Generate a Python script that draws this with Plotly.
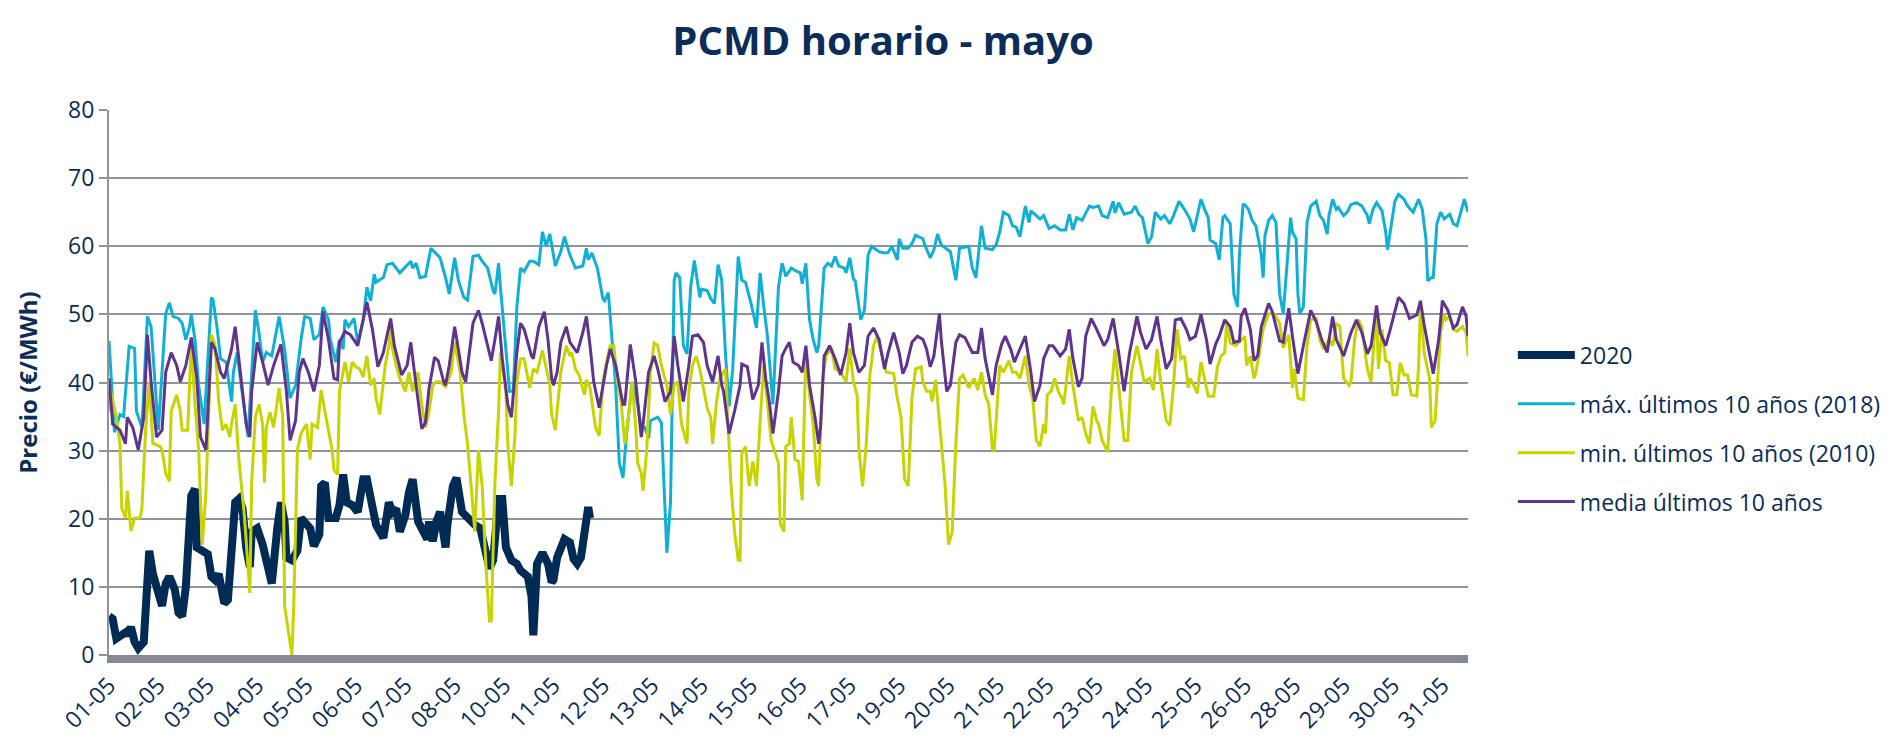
import plotly.graph_objects as go

# ---------------- data (hour index of May, €/MWh) ----------------
tick_labels = ["01-05", "02-05", "03-05", "04-05", "05-05", "06-05", "07-05",
               "08-05", "10-05", "11-05", "12-05", "13-05", "14-05", "15-05",
               "16-05", "17-05", "19-05", "20-05", "21-05", "22-05", "23-05",
               "24-05", "25-05", "26-05", "28-05", "29-05", "30-05", "31-05"]

series_names = ["2020", "máx. últimos 10 años (2018)",
                "min. últimos 10 años (2010)", "media últimos 10 años"]

pts_2020 = [(0, 5.7), (2, 5.3), (4, 2.4), (7, 2.9), (9, 3.3), (10, 2.9), (12, 4.1), (14, 1.9),
            (16, 1.0), (19, 1.9), (20, 8.1), (22, 15.3), (24, 11.9), (26, 10.0), (28, 9.1),
            (29, 7.2), (31, 10.5), (33, 11.5), (36, 9.6), (38, 6.2), (40, 5.7), (42, 10.0),
            (45, 23.4), (47, 24.4), (48, 15.8), (51, 15.3), (54, 14.8), (56, 11.5), (58, 11.0),
            (60, 11.9), (63, 7.6), (65, 8.1), (67, 14.3), (69, 22.4), (71, 22.9), (73, 21.5),
            (75, 15.8), (77, 12.9), (78, 18.1), (81, 18.6), (84, 16.2), (87, 11.9), (89, 10.5),
            (92, 18.6), (94, 22.4), (96, 19.6), (97, 14.3), (100, 13.9), (103, 15.3), (105, 20.1),
            (107, 19.6), (110, 18.6), (112, 16.0), (115, 17.7), (116, 24.8), (118, 25.3),
            (120, 20.1), (124, 20.1), (126, 22.0), (128, 26.5), (130, 22.4), (133, 22.0),
            (136, 21.0), (139, 25.8), (141, 25.8), (144, 21.0), (146, 19.1), (150, 17.2),
            (153, 22.4), (155, 21.0), (157, 21.5), (159, 18.1), (162, 20.5), (164, 23.9),
            (166, 25.8), (169, 19.6), (172, 17.7), (174, 17.0), (175, 19.6), (177, 16.7),
            (179, 19.6), (181, 21.0), (184, 15.8), (185, 19.1), (188, 24.8), (190, 26.0),
            (193, 21.0), (196, 20.1), (200, 19.1), (203, 18.6), (205, 15.8), (208, 12.7),
            (210, 13.9), (212, 19.1), (213, 22.9), (215, 22.9), (217, 15.8), (220, 13.9),
            (223, 13.4), (225, 12.4), (229, 11.5), (231, 8.6), (232, 2.9), (234, 13.4),
            (237, 15.0), (240, 13.4), (242, 10.7), (243, 11.0), (245, 14.3), (249, 17.0),
            (252, 16.5), (254, 14.1), (256, 13.4), (258, 14.3), (260, 18.6), (262, 21.7),
            (263, 20.1)]

pts_max = [(0, 46.1), (3, 32.7), (6, 35.3), (8, 35.0), (11, 45.3), (14, 45.0), (15, 35.8),
           (18, 33.4), (21, 49.7), (23, 48.2), (27, 33.0), (31, 50.1), (33, 51.7), (35, 49.7),
           (38, 49.4), (40, 48.7), (42, 46.3), (44, 48.2), (45, 50.0), (47, 46.3), (49, 39.6),
           (52, 33.9), (56, 52.5), (57, 52.0), (59, 48.2), (61, 43.5), (64, 43.0), (66, 39.6),
           (67, 37.2), (68, 41.5), (70, 44.4), (76, 32.0), (80, 50.6), (82, 47.3), (84, 43.0),
           (86, 44.4), (89, 43.9), (93, 49.7), (95, 46.8), (96, 44.9), (99, 37.7), (102, 39.6),
           (105, 46.3), (107, 49.7), (110, 49.4), (112, 46.3), (115, 47.0), (117, 51.1),
           (120, 49.2), (121, 46.3), (124, 43.0), (126, 46.3), (128, 44.9), (129, 49.2),
           (131, 48.2), (134, 49.4), (136, 45.8), (139, 49.2), (141, 54.0), (143, 52.0),
           (145, 55.9), (146, 54.7), (150, 55.4), (152, 57.3), (155, 57.5), (159, 56.1),
           (165, 57.8), (166, 56.8), (168, 57.5), (170, 55.4), (173, 55.6), (176, 59.7),
           (181, 58.3), (184, 55.4), (186, 53.0), (189, 58.3), (191, 55.0), (194, 52.5),
           (196, 52.1), (199, 58.5), (202, 58.7), (204, 57.8), (207, 56.8), (210, 53.5),
           (211, 53.0), (213, 57.5), (214, 54.0), (217, 45.4), (219, 38.7), (221, 38.7),
           (223, 51.1), (225, 56.8), (227, 56.3), (230, 57.8), (232, 57.8), (235, 57.3),
           (237, 62.1), (239, 60.0), (241, 61.8), (243, 58.7), (244, 57.1), (247, 59.2),
           (249, 61.4), (252, 58.7), (255, 56.8), (259, 57.1), (261, 59.7), (262, 58.0),
           (264, 59.0), (267, 56.8), (270, 52.3), (271, 52.0), (273, 53.2), (275, 46.3),
           (277, 39.6), (279, 28.2), (281, 26.0), (283, 32.5), (286, 40.1), (289, 36.8),
           (291, 33.4), (293, 33.4), (295, 31.8), (296, 34.4), (300, 34.9), (302, 34.1),
           (304, 19.6), (305, 15.0), (307, 22.4), (309, 55.0), (310, 56.1), (312, 55.4),
           (314, 45.4), (316, 44.2), (318, 54.0), (320, 57.9), (323, 52.5), (324, 53.7),
           (327, 53.5), (329, 52.3), (331, 51.6), (333, 57.3), (335, 55.0), (337, 44.4),
           (339, 36.5), (341, 42.0), (344, 58.5), (346, 55.0), (348, 54.7), (351, 51.6),
           (354, 48.0), (356, 56.1), (358, 51.1), (360, 46.8), (363, 36.8), (366, 54.0),
           (368, 57.5), (370, 55.6), (373, 56.8), (376, 56.3), (378, 56.1), (379, 54.5),
           (381, 57.5), (383, 49.2), (385, 46.3), (387, 44.4), (388, 45.4), (391, 56.8),
           (393, 57.5), (395, 57.1), (397, 58.5), (399, 57.1), (402, 56.8), (403, 56.1),
           (405, 58.3), (407, 55.2), (408, 54.9), (411, 49.2), (413, 50.6), (415, 58.7),
           (417, 60.0), (421, 59.2), (424, 59.0), (426, 59.1), (428, 60.0), (431, 58.0),
           (432, 61.1), (434, 59.7), (437, 59.7), (439, 60.4), (441, 61.6), (445, 61.1),
           (446, 60.2), (449, 58.3), (451, 59.5), (453, 61.8), (455, 60.2), (460, 59.2),
           (463, 55.0), (465, 59.7), (470, 60.0), (472, 56.8), (474, 55.4), (477, 63.0),
           (479, 59.7), (483, 59.5), (485, 60.2), (487, 62.1), (489, 65.0), (492, 64.5),
           (494, 63.0), (496, 62.8), (498, 61.4), (501, 65.9), (503, 63.5), (504, 65.2),
           (507, 64.5), (509, 64.0), (511, 64.5), (513, 63.3), (514, 62.6), (517, 63.0),
           (520, 62.4), (523, 62.4), (525, 64.7), (527, 62.4), (529, 64.2), (532, 63.8),
           (536, 65.9), (538, 65.7), (541, 65.9), (543, 64.5), (546, 64.2), (549, 66.6),
           (550, 64.9), (552, 66.4), (555, 64.7), (559, 65.0), (561, 65.9), (563, 64.7),
           (565, 64.2), (568, 60.4), (570, 61.4), (572, 65.0), (575, 64.0), (577, 64.5),
           (580, 63.3), (582, 64.5), (585, 66.6), (588, 65.4), (591, 64.0), (593, 62.1),
           (595, 64.7), (597, 66.9), (599, 65.4), (601, 64.2), (602, 60.9), (605, 60.4),
           (607, 58.0), (609, 64.2), (610, 64.5), (613, 63.3), (615, 53.0), (617, 51.1),
           (618, 58.7), (620, 66.1), (621, 66.1), (623, 65.4), (625, 63.8), (627, 63.0),
           (629, 60.2), (630, 58.7), (631, 55.4), (632, 61.6), (634, 63.8), (636, 64.5),
           (638, 63.5), (640, 53.0), (642, 50.1), (644, 56.8), (646, 64.2), (647, 62.1),
           (649, 61.1), (650, 53.0), (651, 50.1), (653, 51.1), (655, 63.5), (657, 65.9),
           (660, 66.6), (662, 64.5), (664, 63.8), (666, 61.8), (667, 64.5), (669, 66.9),
           (671, 65.4), (672, 65.7), (675, 64.5), (677, 65.0), (679, 66.1), (682, 66.4),
           (685, 65.9), (688, 64.5), (689, 63.3), (691, 65.4), (693, 66.4), (696, 65.2),
           (698, 62.1), (699, 59.5), (701, 62.8), (703, 66.6), (705, 67.6), (708, 66.9),
           (710, 65.9), (713, 65.0), (716, 66.9), (718, 65.4), (720, 61.1), (721, 54.9),
           (723, 55.4), (724, 55.4), (726, 63.3), (728, 65.0), (730, 64.0), (733, 64.7),
           (735, 63.3), (737, 63.0), (741, 66.9), (743, 65.0)]

pts_min = [(0, 35.8), (1, 38.7), (4, 34.9), (6, 31.0), (7, 21.5), (9, 20.1), (10, 24.1),
           (12, 18.2), (14, 20.1), (17, 20.1), (18, 21.5), (20, 33.0), (22, 40.1), (24, 31.0),
           (25, 31.0), (28, 30.6), (29, 30.1), (31, 26.7), (33, 25.5), (34, 35.8), (37, 38.2),
           (39, 35.8), (40, 33.0), (43, 33.0), (45, 45.8), (47, 36.8), (49, 30.1), (51, 16.2),
           (53, 23.9), (56, 47.0), (58, 45.4), (60, 37.2), (62, 33.0), (64, 33.9), (66, 32.0),
           (67, 33.9), (69, 36.8), (71, 28.7), (74, 20.5), (77, 9.1), (78, 25.3), (80, 34.9),
           (82, 36.8), (84, 33.9), (85, 25.3), (86, 33.4), (88, 35.6), (90, 33.4), (93, 39.2),
           (95, 34.9), (96, 7.2), (100, 0.0), (101, 7.2), (103, 30.1), (105, 32.5), (106, 33.0),
           (108, 33.9), (110, 28.7), (111, 33.9), (114, 33.4), (116, 38.9), (118, 35.8),
           (120, 33.0), (122, 30.1), (123, 27.2), (125, 26.5), (126, 38.7), (129, 43.0),
           (131, 40.1), (133, 43.0), (135, 42.3), (137, 42.0), (139, 40.8), (141, 43.9),
           (143, 39.6), (145, 40.6), (146, 37.7), (148, 35.3), (151, 42.5), (153, 45.4),
           (154, 48.0), (155, 44.9), (157, 42.5), (159, 40.6), (162, 38.7), (164, 41.5),
           (166, 38.7), (169, 41.5), (171, 36.8), (173, 33.4), (175, 35.8), (177, 39.6),
           (179, 40.1), (181, 40.1), (184, 39.4), (187, 41.5), (189, 45.9), (192, 41.5),
           (194, 35.3), (196, 31.0), (198, 24.8), (200, 18.1), (202, 30.1), (204, 24.8),
           (206, 13.4), (208, 5.0), (209, 5.0), (211, 25.3), (213, 35.8), (214, 44.4),
           (217, 38.7), (218, 31.0), (220, 24.8), (222, 32.5), (223, 40.1), (225, 43.5),
           (227, 43.5), (230, 39.2), (232, 42.0), (234, 41.5), (237, 44.7), (239, 42.0),
           (241, 39.6), (242, 35.3), (244, 33.0), (247, 41.5), (250, 45.4), (252, 43.9),
           (253, 44.4), (255, 42.0), (257, 41.1), (260, 38.2), (261, 40.4), (263, 39.2),
           (264, 37.2), (266, 33.4), (268, 32.2), (270, 40.1), (272, 43.0), (274, 45.4),
           (276, 45.4), (278, 40.1), (280, 37.2), (282, 31.0), (284, 34.9), (286, 40.1),
           (288, 33.4), (289, 28.2), (291, 26.7), (292, 24.1), (294, 30.1), (296, 41.5),
           (298, 45.8), (300, 45.4), (302, 42.5), (305, 39.6), (307, 35.3), (309, 39.6),
           (311, 40.1), (313, 33.9), (316, 31.0), (317, 38.7), (319, 42.5), (321, 43.9),
           (323, 42.0), (325, 39.2), (327, 36.3), (329, 34.9), (330, 31.0), (332, 36.8),
           (334, 40.6), (337, 42.0), (339, 29.6), (340, 25.3), (342, 18.1), (344, 13.9),
           (345, 13.9), (346, 29.6), (348, 30.6), (350, 24.8), (352, 28.4), (354, 24.8),
           (356, 34.4), (358, 42.5), (359, 39.6), (362, 31.5), (366, 28.2), (367, 19.2),
           (369, 18.1), (370, 30.6), (372, 31.0), (373, 34.9), (375, 28.7), (377, 28.4),
           (379, 22.7), (380, 34.9), (381, 45.0), (383, 38.2), (385, 33.9), (387, 25.8),
           (388, 24.8), (390, 40.1), (392, 43.9), (395, 45.0), (397, 42.0), (400, 41.5),
           (403, 40.1), (405, 45.0), (407, 40.1), (409, 38.2), (410, 30.1), (412, 24.8),
           (414, 31.0), (416, 41.1), (418, 45.4), (420, 46.8), (423, 43.5), (425, 41.5),
           (429, 41.3), (431, 37.7), (433, 34.9), (435, 25.8), (437, 24.8), (439, 37.7),
           (441, 42.0), (444, 42.3), (445, 40.1), (447, 38.7), (449, 38.7), (450, 37.2),
           (452, 40.4), (455, 31.5), (457, 25.3), (459, 16.2), (461, 18.1), (463, 31.0),
           (465, 40.6), (467, 41.1), (470, 39.2), (473, 40.6), (475, 38.9), (477, 41.5),
           (479, 38.2), (481, 36.8), (483, 30.1), (484, 30.1), (487, 42.5), (489, 41.5),
           (492, 43.2), (494, 41.5), (496, 41.5), (498, 40.6), (501, 43.9), (503, 39.6),
           (505, 37.7), (507, 31.5), (509, 30.6), (511, 33.9), (512, 32.5), (513, 38.2),
           (515, 38.7), (517, 40.6), (519, 38.7), (521, 37.7), (522, 36.8), (525, 43.9),
           (527, 39.6), (530, 34.4), (532, 34.9), (534, 32.5), (536, 31.0), (538, 36.5),
           (540, 34.4), (541, 33.9), (543, 31.5), (546, 29.8), (548, 38.7), (550, 44.9),
           (552, 39.6), (553, 37.7), (555, 31.5), (557, 31.5), (559, 41.5), (562, 45.4),
           (564, 42.5), (566, 40.1), (569, 40.6), (571, 38.9), (573, 44.9), (575, 40.1),
           (578, 34.4), (580, 33.7), (582, 39.6), (584, 47.8), (586, 43.5), (588, 43.9),
           (590, 39.2), (591, 40.6), (593, 39.6), (595, 38.4), (597, 43.0), (599, 40.6),
           (601, 38.0), (604, 38.0), (606, 42.3), (608, 43.9), (610, 44.4), (611, 48.7),
           (613, 45.8), (616, 45.4), (619, 46.3), (621, 46.8), (622, 42.5), (624, 43.9),
           (626, 40.6), (627, 41.5), (629, 44.4), (631, 47.8), (634, 50.1), (637, 50.1),
           (640, 48.7), (642, 45.1), (645, 47.0), (647, 39.2), (648, 42.0), (650, 37.7),
           (653, 37.5), (655, 45.4), (657, 49.2), (660, 49.4), (662, 46.3), (664, 44.9),
           (667, 46.3), (669, 45.4), (671, 48.7), (673, 48.2), (675, 40.6), (678, 39.6),
           (679, 40.1), (681, 46.3), (683, 49.2), (685, 48.2), (687, 43.9), (688, 42.0),
           (690, 40.1), (691, 43.5), (693, 51.1), (694, 42.0), (696, 47.8), (698, 43.2),
           (700, 42.9), (702, 38.2), (704, 38.2), (706, 42.9), (708, 41.1), (710, 41.1),
           (712, 38.2), (715, 38.0), (716, 42.5), (717, 51.6), (719, 44.4), (722, 40.6),
           (723, 33.4), (725, 34.4), (727, 42.0), (728, 47.3), (730, 50.1), (731, 49.2),
           (733, 49.7), (735, 47.8), (737, 47.5), (740, 48.2), (742, 47.3), (743, 43.9)]

pts_media = [(0, 40.6), (2, 33.9), (6, 33.0), (9, 31.0), (10, 34.9), (13, 33.4), (16, 30.1),
             (19, 34.9), (21, 47.0), (23, 40.1), (26, 32.0), (29, 33.0), (31, 41.5), (34, 44.4),
             (37, 42.5), (39, 40.1), (42, 42.5), (45, 46.6), (48, 40.6), (50, 32.0), (53, 30.1),
             (56, 45.9), (58, 44.9), (61, 41.5), (63, 40.6), (67, 44.9), (69, 48.2), (72, 41.5),
             (75, 33.9), (77, 32.0), (78, 38.7), (81, 45.9), (84, 43.0), (87, 39.6), (90, 42.5),
             (94, 45.6), (97, 38.7), (99, 31.5), (102, 34.4), (104, 41.5), (106, 43.5),
             (109, 41.5), (112, 38.7), (115, 42.5), (117, 50.4), (120, 46.3), (123, 40.6),
             (125, 40.4), (126, 45.9), (129, 47.5), (132, 47.0), (136, 45.4), (138, 47.8),
             (141, 51.8), (144, 47.8), (147, 42.3), (150, 44.4), (154, 49.4), (156, 45.4),
             (160, 41.1), (163, 42.5), (165, 45.9), (167, 41.5), (171, 33.2), (173, 34.1),
             (175, 39.2), (178, 43.7), (180, 43.2), (183, 40.1), (184, 39.6), (186, 42.5),
             (189, 48.2), (191, 44.9), (193, 41.5), (195, 40.1), (199, 48.7), (202, 50.6),
             (204, 48.7), (207, 45.4), (209, 43.2), (211, 46.3), (213, 49.7), (215, 43.5),
             (218, 36.8), (220, 34.9), (223, 44.4), (225, 48.7), (227, 47.8), (231, 43.9),
             (232, 43.5), (235, 48.2), (238, 50.4), (240, 46.3), (242, 40.6), (243, 39.6),
             (245, 41.5), (247, 45.9), (250, 48.2), (252, 45.9), (256, 44.4), (259, 47.3),
             (261, 49.7), (263, 45.4), (265, 40.1), (268, 36.3), (271, 41.1), (272, 42.5),
             (274, 44.9), (277, 42.5), (281, 36.8), (282, 36.8), (285, 45.6), (288, 40.1),
             (291, 32.0), (292, 33.9), (295, 41.5), (298, 43.9), (300, 42.0), (304, 37.2),
             (307, 38.7), (309, 46.8), (311, 42.5), (314, 37.2), (317, 42.5), (319, 46.8),
             (322, 47.0), (325, 45.9), (327, 42.5), (330, 40.1), (333, 43.9), (335, 39.6),
             (336, 38.7), (339, 32.5), (342, 35.8), (345, 39.6), (346, 42.7), (349, 42.3),
             (352, 37.5), (355, 39.6), (357, 45.9), (359, 40.6), (361, 37.2), (363, 32.5),
             (366, 38.7), (368, 43.9), (370, 45.0), (372, 45.9), (374, 43.0), (377, 42.5),
             (379, 41.5), (381, 45.4), (383, 39.6), (386, 34.9), (388, 31.0), (389, 33.4),
             (391, 43.9), (394, 45.4), (397, 43.5), (400, 41.1), (403, 44.4), (405, 48.7),
             (407, 44.4), (410, 41.5), (413, 42.5), (415, 46.8), (418, 48.0), (421, 46.3),
             (424, 42.0), (426, 44.4), (429, 47.3), (432, 44.4), (434, 41.3), (436, 42.5),
             (439, 45.9), (442, 46.8), (445, 46.3), (447, 44.9), (449, 42.3), (451, 43.9),
             (454, 50.1), (455, 46.3), (458, 38.7), (460, 39.6), (463, 45.9), (465, 47.0),
             (468, 46.6), (472, 44.4), (475, 44.4), (477, 48.0), (479, 43.5), (483, 38.2),
             (485, 42.5), (488, 45.6), (490, 46.8), (493, 44.9), (495, 43.0), (498, 44.9),
             (501, 46.8), (504, 41.5), (506, 37.2), (509, 39.6), (511, 43.5), (514, 45.4),
             (516, 45.4), (520, 43.9), (523, 44.9), (525, 47.8), (527, 43.5), (530, 39.4),
             (532, 40.6), (534, 46.8), (537, 49.4), (540, 47.8), (544, 45.4), (546, 46.3),
             (549, 49.4), (552, 44.4), (555, 38.7), (558, 44.4), (560, 47.3), (562, 49.7),
             (564, 47.3), (567, 44.9), (570, 46.3), (573, 49.7), (575, 46.3), (578, 42.0),
             (581, 43.5), (583, 49.2), (586, 49.4), (589, 47.8), (591, 46.3), (594, 46.8),
             (597, 50.0), (600, 46.3), (602, 42.7), (605, 45.6), (607, 46.8), (610, 49.2),
             (613, 48.2), (615, 45.9), (618, 46.1), (619, 49.7), (621, 50.9), (624, 47.8),
             (626, 43.2), (628, 43.9), (630, 48.2), (634, 51.6), (636, 50.4), (640, 46.1),
             (642, 45.9), (645, 50.9), (647, 46.8), (650, 41.3), (653, 45.4), (657, 50.6),
             (660, 48.9), (663, 46.3), (666, 44.4), (669, 49.7), (671, 46.3), (675, 43.9),
             (679, 47.3), (682, 49.2), (685, 47.3), (688, 44.2), (690, 45.4), (693, 51.3),
             (695, 47.3), (698, 45.4), (700, 47.3), (705, 52.5), (708, 51.6), (711, 49.4),
             (715, 49.9), (717, 52.0), (719, 48.5), (722, 44.4), (724, 41.3), (727, 46.3),
             (729, 52.0), (732, 50.6), (735, 48.0), (737, 48.5), (740, 51.1), (742, 49.7),
             (743, 46.8)]

# ---------------- styling ----------------
NAVY = "#0B2D58"
GRID = "#8E939D"
FONT = "Open Sans"
colors = ["#002B55", "#10B0D6", "#C8D400", "#60338C"]
widths = [8, 3, 3, 3]
all_pts = [pts_2020, pts_max, pts_min, pts_media]

fig = go.Figure()
for name, pts, col, w in zip(series_names, all_pts, colors, widths):
    fig.add_trace(go.Scatter(
        x=[p[0] for p in pts], y=[p[1] for p in pts], mode="lines", name=name,
        legendgroup=name, line=dict(color=col, width=w), hoverinfo="skip"))

fig.update_layout(
    width=1890, height=739,
    margin=dict(l=101, r=423, t=102, b=79),
    paper_bgcolor="white", plot_bgcolor="white",
    font=dict(family=FONT, color=NAVY, size=23),
    title=dict(text="<b>PCMD horario - mayo</b>", x=0.463, xanchor="center",
               y=0.955, yanchor="middle", xref="container", yref="container",
               font=dict(family=FONT, size=40, color=NAVY)),
    showlegend=True,
    legend=dict(x=1.033, xanchor="left", y=0.59, yanchor="top",
                traceorder="grouped", tracegroupgap=16, itemwidth=57,
                font=dict(family=FONT, size=23, color=NAVY),
                bgcolor="rgba(0,0,0,0)"),
)
fig.update_xaxes(
    range=[0, 743], tickmode="array", tickvals=list(range(0, 744, 27)),
    ticktext=tick_labels, tickangle=-45, showgrid=False, zeroline=False,
    showline=True, linecolor="#868A94", linewidth=8, ticks="",
    tickfont=dict(family=FONT, size=23, color=NAVY))
fig.update_yaxes(
    range=[0, 80], dtick=10, showgrid=True, gridcolor=GRID, gridwidth=2,
    zeroline=False, showline=True, linecolor=GRID, linewidth=2,
    ticks="outside", ticklen=8, tickwidth=2, tickcolor=GRID,
    tickfont=dict(family=FONT, size=23, color=NAVY),
    title=dict(text="<b>Precio (€/MWh)</b>", font=dict(family=FONT, size=24, color=NAVY),
               standoff=24))

fig.write_html("out.html")
